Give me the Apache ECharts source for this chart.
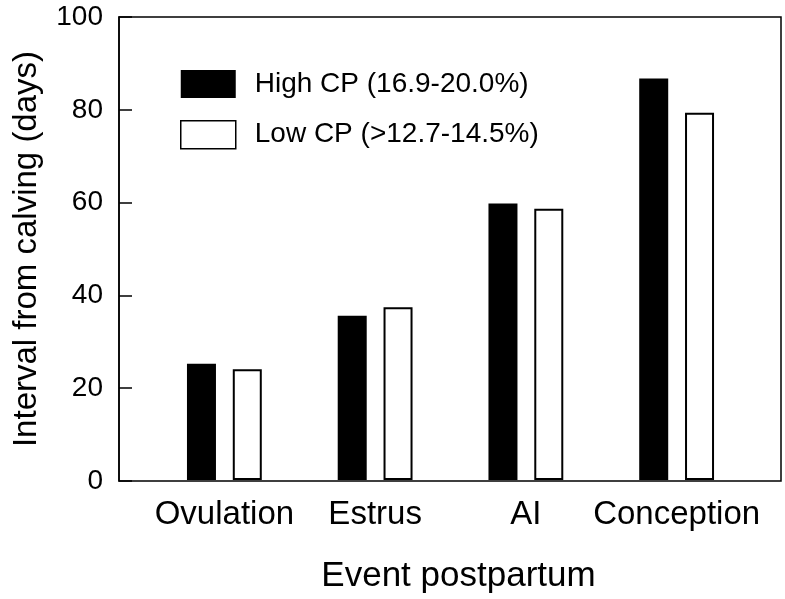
<!DOCTYPE html>
<html>
<head>
<meta charset="utf-8">
<title>Interval from calving</title>
<script src="https://cdn.jsdelivr.net/npm/echarts@6/dist/echarts.min.js"></script>
<style>
    html, body { margin: 0; padding: 0; background: #fff; }
    #chart { width: 785px; height: 599px; }
</style>
</head>
<body>
<div id="chart"></div>
<script>
// 数据
const categories = ['Ovulation', 'Estrus', 'AI', 'Conception'];
const seriesNames = ['High CP (16.9-20.0%)', 'Low CP (>12.7-14.5%)'];
const highCP = [25.1, 35.5, 59.7, 86.7];
const lowCP = [23.9, 37.3, 58.6, 79.3];
const yTicks = [0, 20, 40, 60, 80, 100];

const FONT = 'Liberation Sans, Arial, Helvetica, sans-serif';

let chart = echarts.init(document.getElementById('chart'), null, { renderer: 'canvas' });

let option = {
    backgroundColor: '#fff',
    animation: false,
    textStyle: { fontFamily: FONT, color: '#000' },
    legend: {
        orient: 'vertical',
        left: 180,
        top: 70,
        padding: 0,
        itemWidth: 55,
        itemHeight: 28,
        itemGap: 22,
        selectedMode: false,
        textStyle: {
            fontFamily: FONT,
            fontSize: 28,
            color: '#000',
            padding: [0, 0, 0, 14]
        },
        data: [
            { name: seriesNames[0], icon: 'rect', itemStyle: { color: '#000', borderWidth: 0 } },
            { name: seriesNames[1], icon: 'rect', itemStyle: { color: '#fff', borderColor: '#000', borderWidth: 1.5 } }
        ]
    },
    grid: [
        // 外框 + 纵轴
        { left: 119, top: 17, width: 662, height: 464, show: true, borderColor: '#000', borderWidth: 1.5, backgroundColor: 'transparent' },
        // 柱子所在区域
        { left: 149, top: 17, width: 603, height: 464 }
    ],
    xAxis: [
        { gridIndex: 0, type: 'value', min: 0, max: 1, show: false },
        {
            gridIndex: 1,
            type: 'category',
            data: categories,
            axisLine: { show: false },
            axisTick: { show: false },
            axisLabel: { interval: 0, hideOverlap: false, fontFamily: FONT, fontSize: 33, color: '#000', margin: 18 },
            name: 'Event postpartum',
            nameLocation: 'middle',
            nameGap: 79,
            nameTextStyle: { fontFamily: FONT, fontSize: 35, color: '#000', padding: [0, 0, 0, 16] }
        }
    ],
    yAxis: [
        {
            gridIndex: 0,
            type: 'value',
            min: yTicks[0],
            max: yTicks[yTicks.length - 1],
            interval: 20,
            axisLine: { show: true, lineStyle: { color: '#000', width: 1.5 } },
            axisTick: { show: true, inside: true, length: 13, lineStyle: { color: '#000', width: 1.5 } },
            splitLine: { show: false },
            axisLabel: { fontFamily: FONT, fontSize: 28, color: '#000', margin: 16 },
            name: 'Interval from calving (days)',
            nameLocation: 'middle',
            nameGap: 76,
            nameTextStyle: { fontFamily: FONT, fontSize: 33, color: '#000' }
        },
        { gridIndex: 1, type: 'value', min: 0, max: 100, show: false }
    ],
    series: [
        {
            name: seriesNames[0],
            type: 'bar',
            xAxisIndex: 1,
            yAxisIndex: 1,
            barWidth: 29,
            barGap: '58%',
            itemStyle: { color: '#000' },
            data: highCP
        },
        {
            name: seriesNames[1],
            type: 'bar',
            xAxisIndex: 1,
            yAxisIndex: 1,
            barWidth: 29,
            barGap: '58%',
            itemStyle: { color: '#fff', borderColor: '#000', borderWidth: 2 },
            data: lowCP
        }
    ]
};

chart.setOption(option);
</script>
</body>
</html>
